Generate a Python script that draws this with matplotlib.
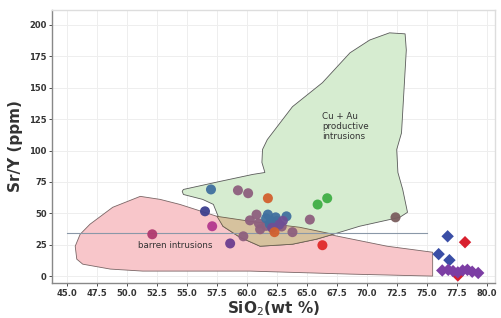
import matplotlib
matplotlib.use("Agg")
import matplotlib.pyplot as plt
from matplotlib.patches import Polygon

# ---- region outlines (SiO2, Sr/Y) ----
green_x = [71.9, 73.2, 73.3, 72.9, 72.5, 72.6, 73.0, 73.4, 72.75, 69.4, 67.2, 65.8, 63.8, 61.1,
           59.4, 58.0, 57.6, 57.2, 56.3, 54.7, 54.6, 54.7, 57.75, 60.5, 61.5, 61.25, 61.3, 61.7,
           63.8, 66.3, 68.6, 70.25]
green_y = [193.7, 192.9, 180, 114, 100.8, 82.5, 69, 50.8, 46.8, 39.7, 33.3, 29.4, 25.4, 23.8,
           31, 39.7, 47.6, 57.1, 61.1, 65, 67.5, 69, 75.4, 81, 82.5, 90.5, 100.8, 108.7,
           134.9, 154, 177.8, 188]

pink_x = [45.67, 46.08, 46.9, 48.8, 51.1, 52.75, 54.4, 57.5, 60.25, 64.4, 67.2, 71.7, 75.5,
          75.5, 68.6, 60.25, 51.3, 48.6, 46.3, 45.8]
pink_y = [23.8, 33.3, 41.3, 54.8, 63.5, 61.1, 57.1, 47.6, 43.7, 38.9, 32.5, 23.8, 19,
          0, 1.6, 4, 4, 5.6, 9.5, 13.5]

overlap_x = [57.5, 60.25, 64.4, 67.2, 65.8, 63.8, 61.1, 59.4, 58.0]
overlap_y = [47.6, 43.7, 38.9, 33.3, 29.4, 25.4, 23.8, 31, 39.7]

ref_line_x = [45.0, 75.0]
ref_line_y = [34.5, 34.5]

# ---- circles (intrusions) ----
mauve_x = [59.25, 60.1, 60.25, 60.8, 59.7, 61.1, 62.9, 63.8, 65.25, 61.0, 62.5, 61.6]
mauve_y = [68.3, 66.0, 44.4, 49.0, 31.7, 37.3, 39.5, 35.0, 45.0, 42.0, 44.0, 40.0]
steel_x = [57.0, 61.75, 62.0, 62.4, 63.3, 61.9, 62.3, 61.6]
steel_y = [69.0, 49.0, 44.0, 46.8, 47.6, 41.5, 42.5, 46.0]
violet_x = [63.0, 62.7, 62.1]
violet_y = [44.0, 41.0, 38.5]
orange_x = [62.3, 61.75]
orange_y = [35.0, 62.0]
red_x = [66.3]
red_y = [24.6]
green_pts_x = [65.9, 66.7]
green_pts_y = [57.0, 62.0]
navy_x = [56.5]
navy_y = [51.6]
magenta_x = [57.1]
magenta_y = [39.7]
crimson_x = [52.1]
crimson_y = [33.3]
purple_x = [58.6]
purple_y = [26.0]
brown_x = [72.4]
brown_y = [46.8]

# ---- diamonds (barren felsic) ----
dblue_x = [76.75, 76.0, 76.9]
dblue_y = [31.7, 17.5, 12.7]
dred_x = [78.2, 77.6]
dred_y = [27.0, 0.5]
dpurple_x = [76.3, 76.8, 77.2, 77.6, 78.0, 78.4, 78.8, 79.3]
dpurple_y = [4.5, 5.0, 4.0, 3.0, 4.5, 5.0, 3.5, 2.5]

x_ticks = [45.0, 47.5, 50.0, 52.5, 55.0, 57.5, 60.0, 62.5, 65.0, 67.5, 70.0, 72.5, 75.0, 77.5, 80.0]
y_ticks = [0, 25, 50, 75, 100, 125, 150, 175, 200]

fig = plt.figure(figsize=(5.02, 3.18), dpi=100)
ax = fig.add_axes([0.104, 0.110, 0.882, 0.859])

ax.add_patch(Polygon(list(zip(pink_x, pink_y)), closed=True, facecolor='#f8c6ca',
                     edgecolor='#7a6666', linewidth=0.6, zorder=1))
ax.add_patch(Polygon(list(zip(green_x, green_y)), closed=True, facecolor='#d6ecd0',
                     edgecolor='#5a5a5a', linewidth=0.6, zorder=2))
ax.add_patch(Polygon(list(zip(overlap_x, overlap_y)), closed=True, facecolor='#d6c29e',
                     edgecolor='#6e6050', linewidth=0.6, zorder=3))
ax.plot(ref_line_x, ref_line_y, color='#8a98a8', linewidth=0.8, zorder=3)

s_c = 52
circ = [
    (mauve_x, mauve_y, '#8e5f7e'),
    (steel_x, steel_y, '#40709f'),
    (violet_x, violet_y, '#6f4f95'),
    (orange_x, orange_y, '#d2602e'),
    (red_x, red_y, '#e02a2a'),
    (green_pts_x, green_pts_y, '#3fae45'),
    (navy_x, navy_y, '#3c3f8e'),
    (magenta_x, magenta_y, '#b4388e'),
    (crimson_x, crimson_y, '#b03a70'),
    (purple_x, purple_y, '#6b3d8f'),
    (brown_x, brown_y, '#7a5e5e'),
]
for xs, ys, c in circ:
    ax.scatter(xs, ys, s=s_c, color=c, edgecolors='none', zorder=5, alpha=0.95)

ax.scatter(dblue_x, dblue_y, s=40, marker='D', color='#3a4ea6', edgecolors='none', zorder=5)
ax.scatter(dred_x, dred_y, s=40, marker='D', color='#d8202e', edgecolors='none', zorder=5)
ax.scatter(dpurple_x, dpurple_y, s=40, marker='D', color='#7c3ea4', edgecolors='none', zorder=5)

ax.text(66.3, 119, 'Cu + Au\nproductive\nintrusions', fontsize=6.3, color='#333333',
        ha='left', va='center', linespacing=1.1, zorder=6)
ax.text(50.9, 24, 'barren intrusions', fontsize=6.3, color='#333333',
        ha='left', va='center', zorder=6)

ax.set_xlim(43.75, 80.7)
ax.set_ylim(-5.5, 212)
ax.set_xticks(x_ticks)
ax.set_xticklabels([f'{v:.1f}' for v in x_ticks])
ax.set_yticks(y_ticks)
ax.set_yticklabels([str(v) for v in y_ticks])
ax.tick_params(labelsize=6, colors='#333333', length=2, width=0.6, pad=2)
for lab in ax.get_xticklabels() + ax.get_yticklabels():
    lab.set_fontweight('bold')
ax.grid(True, color='#eeeeee', linewidth=0.7, zorder=0)
ax.set_axisbelow(True)
for side in ['left', 'bottom']:
    ax.spines[side].set_color('#888888')
    ax.spines[side].set_linewidth(1.0)
for side in ['top', 'right']:
    ax.spines[side].set_color('#dddddd')
    ax.spines[side].set_linewidth(1.0)

ax.set_xlabel('SiO$_2$(wt %)', fontsize=11, fontweight='bold', color='#333333', labelpad=1)
ax.set_ylabel('Sr/Y (ppm)', fontsize=11, fontweight='bold', color='#333333', labelpad=4)

fig.savefig('out.png', dpi=100)
